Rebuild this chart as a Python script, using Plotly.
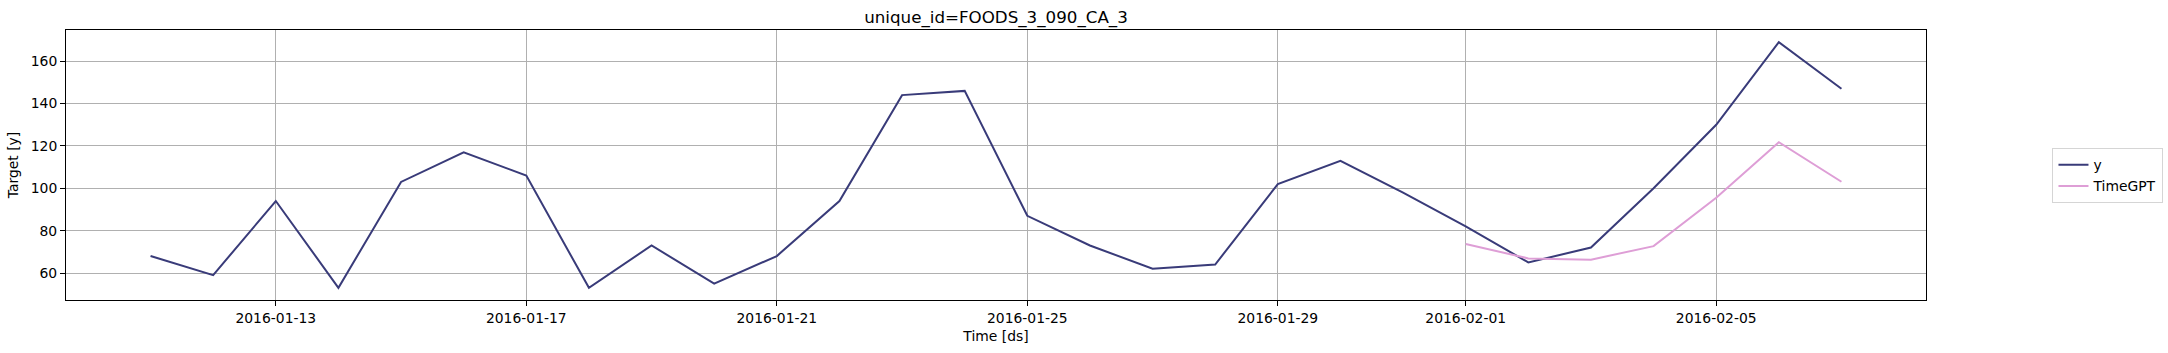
import pandas as pd
import plotly.graph_objects as go

# ---- data ----
dates = pd.date_range("2016-01-11", "2016-02-07", freq="D")
y_values = [68, 59, 94, 53, 103, 117, 106, 53, 73, 55, 68, 94, 144, 146,
            87, 73, 62, 64, 102, 113, 98, 82, 65, 72, 100, 130, 169, 147]
fc_dates = pd.date_range("2016-02-01", "2016-02-07", freq="D")
timegpt_values = [73.7, 66.9, 66.3, 72.7, 95.5, 121.8, 103.1]

x_tick_vals = ["2016-01-13", "2016-01-17", "2016-01-21", "2016-01-25",
               "2016-01-29", "2016-02-01", "2016-02-05"]
y_tick_vals = [60, 80, 100, 120, 140, 160]

title_text = "unique_id=FOODS_3_090_CA_3"
FONT = "DejaVu Sans"

fig = go.Figure()
fig.add_trace(go.Scatter(x=dates, y=y_values, mode="lines", name="y",
                         line=dict(color="#393b79", width=2)))
fig.add_trace(go.Scatter(x=fc_dates, y=timegpt_values, mode="lines", name="TimeGPT",
                         line=dict(color="#de9ed6", width=2)))

fig.update_layout(
    width=2168, height=353,
    margin=dict(l=66, r=242, t=30, b=53, autoexpand=False),
    paper_bgcolor="white", plot_bgcolor="white",
    font=dict(family=FONT, size=13.9, color="black"),
    title=dict(text=title_text, x=(66 + 1926) / 2 / 2168, xanchor="center",
               y=1 - 17 / 353, yanchor="middle", yref="container",
               font=dict(family=FONT, size=16.7, color="black")),
    showlegend=True,
    legend=dict(x=1.068, xanchor="left", y=0.46, yanchor="middle",
                bgcolor="white", bordercolor="#d5d5d5", borderwidth=1,
                font=dict(family=FONT, size=13.9, color="black"),
                tracegroupgap=2),
)

fig.update_xaxes(
    range=["2016-01-09 15:36", "2016-02-08 08:24"],
    tickvals=x_tick_vals, tickformat="%Y-%m-%d",
    showgrid=True, gridcolor="#b0b0b0", gridwidth=1,
    showline=True, linecolor="black", linewidth=1, mirror=True,
    ticks="outside", ticklen=5, tickwidth=1, tickcolor="black",
    zeroline=False,
    title=dict(text="Time [ds]", standoff=6, font=dict(family=FONT, size=13.9)),
)
fig.update_yaxes(
    range=[47.25, 174.75],
    tickvals=y_tick_vals,
    showgrid=True, gridcolor="#b0b0b0", gridwidth=1,
    showline=True, linecolor="black", linewidth=1, mirror=True,
    ticks="outside", ticklen=5, tickwidth=1, tickcolor="black",
    zeroline=False,
    title=dict(text="Target [y]", standoff=8, font=dict(family=FONT, size=13.9)),
)

fig.write_html("out.html")
